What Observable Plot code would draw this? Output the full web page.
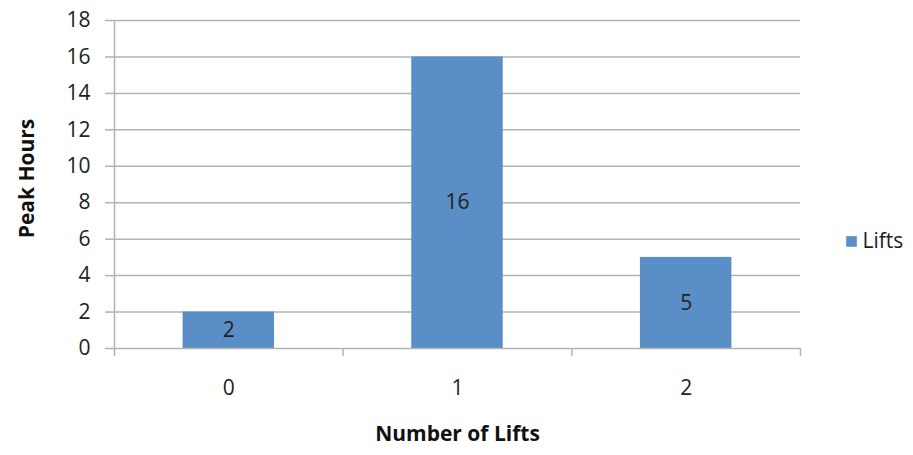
<!DOCTYPE html>
<html>
<head>
<meta charset="utf-8">
<script src="https://cdn.jsdelivr.net/npm/d3@7"></script>
<script src="https://cdn.jsdelivr.net/npm/@observablehq/plot@0.6"></script>
<style>
  html, body { margin: 0; padding: 0; background: #fff; }
  #chart svg { display: block; }
</style>
</head>
<body>
<div id="chart"></div>
<script>
const lifts = [0, 1, 2];
const peakHours = [2, 16, 5];
const yTicks = [0, 2, 4, 6, 8, 10, 12, 14, 16, 18];
const seriesName = "Lifts";
const xTitle = "Number of Lifts";
const yTitle = "Peak Hours";

const data = lifts.map((l, i) => ({lifts: l, hours: peakHours[i]}));
const boundaries = [-0.5, 0.5, 1.5, 2.5];

const barColor = "#5A8EC6";
const gridColor = "#B3B3B3";
const font = "'Open Sans', sans-serif";

const chart = Plot.plot({
  width: 913,
  height: 455,
  marginLeft: 114,
  marginRight: 113,
  marginTop: 20,
  marginBottom: 107,
  style: {fontFamily: font, fontSize: "20px", color: "#222", background: "#fff"},
  x: {domain: [-0.5, 2.5], axis: null},
  y: {domain: [0, 18], axis: null},
  marks: [
    Plot.gridY(yTicks.filter(t => t > 0), {stroke: gridColor, strokeOpacity: 1, strokeWidth: 1.5}),
    Plot.axisY(yTicks, {tickSize: 9, tickPadding: 15, stroke: gridColor, strokeWidth: 1.5, label: null, fontSize: 21, fill: "#222"}),
    Plot.rectY(data, {x1: d => d.lifts - 0.2, x2: d => d.lifts + 0.2, y: "hours", fill: barColor}),
    Plot.ruleY([0], {stroke: gridColor, strokeWidth: 1.5}),
    Plot.ruleX([-0.5], {stroke: gridColor, strokeWidth: 1.5}),
    Plot.axisX(boundaries, {tickSize: 8, tickFormat: () => "", stroke: gridColor, strokeWidth: 1.5, label: null}),
    Plot.axisX(lifts, {tickSize: 0, tickPadding: 32, tickFormat: d => String(d), label: null, fontSize: 21, fill: "#222"}),
    Plot.text(data, {x: "lifts", y: d => d.hours / 2, text: d => String(d.hours), fontSize: 21, fill: "#222"}),
    Plot.text([yTitle], {frameAnchor: "left", textAnchor: "middle", dx: -87, dy: -6, rotate: -90, fontWeight: "bold", fontSize: 21, fill: "#111"}),
    Plot.text([xTitle], {frameAnchor: "bottom", dy: 92, fontWeight: "bold", fontSize: 21, fill: "#111"}),
    Plot.dot([seriesName], {frameAnchor: "right", dx: 51, dy: 57, symbol: "square", r: 6, fill: barColor, stroke: null}),
    Plot.text([seriesName], {frameAnchor: "right", dx: 62, dy: 57, textAnchor: "start", fontSize: 21, fill: "#222"})
  ]
});
document.getElementById("chart").appendChild(chart);
</script>
</body>
</html>
